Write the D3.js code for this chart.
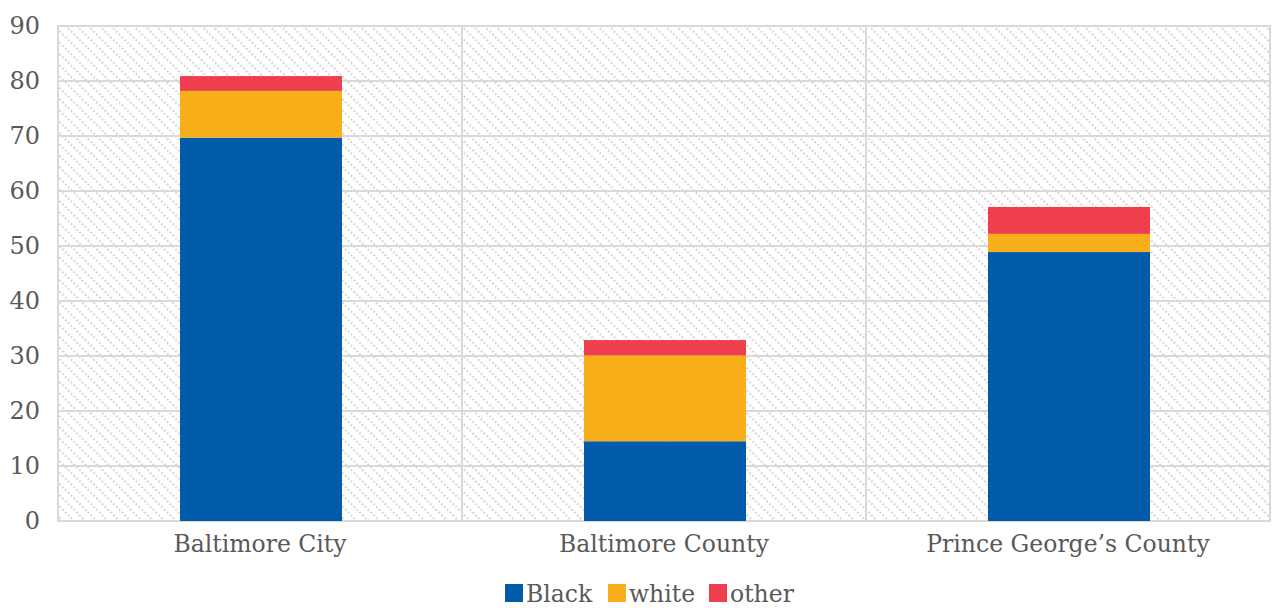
<!DOCTYPE html>
<html>
<head>
<meta charset="utf-8">
<script src="https://cdn.jsdelivr.net/npm/d3@7"></script>
<style>
  html, body { margin: 0; padding: 0; background: #fff; }
  svg { display: block; }
  svg text { font-family: "DejaVu Serif", "Liberation Serif", serif; fill: #595959; }
</style>
</head>
<body>
<svg id="chart" width="1273" height="608"></svg>
<script>
// Share of each jurisdiction's total, split by race
const categories = ["Baltimore City", "Baltimore County", "Prince George\u2019s County"];
const seriesNames = ["Black", "white", "other"];
const blackValues = [69.7, 14.5, 48.9];
const whiteValues = [8.5, 15.6, 3.3];
const otherValues = [2.7, 2.8, 4.9];
const yTicks = [0, 10, 20, 30, 40, 50, 60, 70, 80, 90];
const colors = ["#015BAA", "#F9AF1A", "#EF3F4E"];

const rows = categories.map((c, i) => ({
  category: c,
  Black: blackValues[i],
  white: whiteValues[i],
  other: otherValues[i]
}));

const FONT = "DejaVu Serif, Liberation Serif, serif";
const svg = d3.select("#chart");
const margin = { left: 58, right: 3, top: 26, bottom: 87 };
const W = 1273, H = 608;
const plotW = W - margin.left - margin.right;
const plotH = H - margin.top - margin.bottom;

const x = d3.scaleBand().domain(categories).range([margin.left, margin.left + plotW]).paddingInner(0).paddingOuter(0);
const y = d3.scaleLinear().domain([0, 90]).range([margin.top + plotH, margin.top]);

// Diagonal hatch fill for the plot background
const defs = svg.append("defs");
const pat = defs.append("pattern")
  .attr("id", "hatch")
  .attr("patternUnits", "userSpaceOnUse")
  .attr("width", 8).attr("height", 8)
  .attr("patternTransform", "rotate(45)");
pat.append("rect").attr("width", 8).attr("height", 8).attr("fill", "#fff");
pat.append("line")
  .attr("x1", 0).attr("y1", 4).attr("x2", 8).attr("y2", 4)
  .attr("stroke", "#d6d6d6").attr("stroke-width", 2)
  .attr("stroke-dasharray", "2 2");

svg.append("rect")
  .attr("x", margin.left).attr("y", margin.top)
  .attr("width", plotW).attr("height", plotH)
  .attr("fill", "url(#hatch)");

// Horizontal gridlines
svg.append("g")
  .selectAll("line")
  .data(yTicks)
  .join("line")
  .attr("x1", margin.left).attr("x2", margin.left + plotW)
  .attr("y1", d => y(d)).attr("y2", d => y(d))
  .attr("stroke", "#d9d9d9").attr("stroke-width", 2);

// Category separators
svg.append("g")
  .selectAll("line")
  .data(categories.slice(1))
  .join("line")
  .attr("x1", d => x(d)).attr("x2", d => x(d))
  .attr("y1", margin.top).attr("y2", margin.top + plotH)
  .attr("stroke", "#d9d9d9").attr("stroke-width", 2);

// Plot border
svg.append("rect")
  .attr("x", margin.left).attr("y", margin.top)
  .attr("width", plotW).attr("height", plotH)
  .attr("fill", "none").attr("stroke", "#d9d9d9").attr("stroke-width", 2);

// Stacked bars
const stacked = d3.stack().keys(seriesNames)(rows);
const barW = 162;
const color = d3.scaleOrdinal().domain(seriesNames).range(colors);

svg.append("g")
  .selectAll("g")
  .data(stacked)
  .join("g")
  .attr("fill", d => color(d.key))
  .selectAll("rect")
  .data(d => d)
  .join("rect")
  .attr("x", d => x(d.data.category) + x.bandwidth() / 2 - barW / 2 + 1)
  .attr("width", barW)
  .attr("y", d => y(d[1]))
  .attr("height", d => y(d[0]) - y(d[1]));

// Y axis labels
const yAxis = d3.axisLeft(y).tickValues(yTicks).tickSize(0).tickPadding(0);
const gy = svg.append("g")
  .attr("transform", `translate(${margin.left - 18},0)`)
  .call(yAxis)
  .attr("font-family", FONT);
gy.select(".domain").remove();
gy.selectAll("text")
  .attr("font-size", 24)
  .attr("fill", "#595959");

// X axis labels
const xAxis = d3.axisBottom(x).tickSize(0).tickPadding(0);
const gx = svg.append("g")
  .attr("transform", `translate(0,${margin.top + plotH + 14})`)
  .call(xAxis)
  .attr("font-family", FONT);
gx.select(".domain").remove();
gx.selectAll("text")
  .attr("font-size", 23.5)
  .attr("fill", "#595959");

// Legend
const legendItems = [
  { name: "Black", x: 505 },
  { name: "white", x: 608 },
  { name: "other", x: 709 }
];
const lg = svg.append("g").attr("font-family", FONT);
const li = lg.selectAll("g").data(legendItems).join("g")
  .attr("transform", d => `translate(${d.x},584)`);
li.append("rect").attr("width", 18).attr("height", 18).attr("fill", d => color(d.name));
li.append("text")
  .attr("x", 21).attr("y", 18)
  .attr("font-size", 23.5)
  .text(d => d.name);
</script>
</body>
</html>
